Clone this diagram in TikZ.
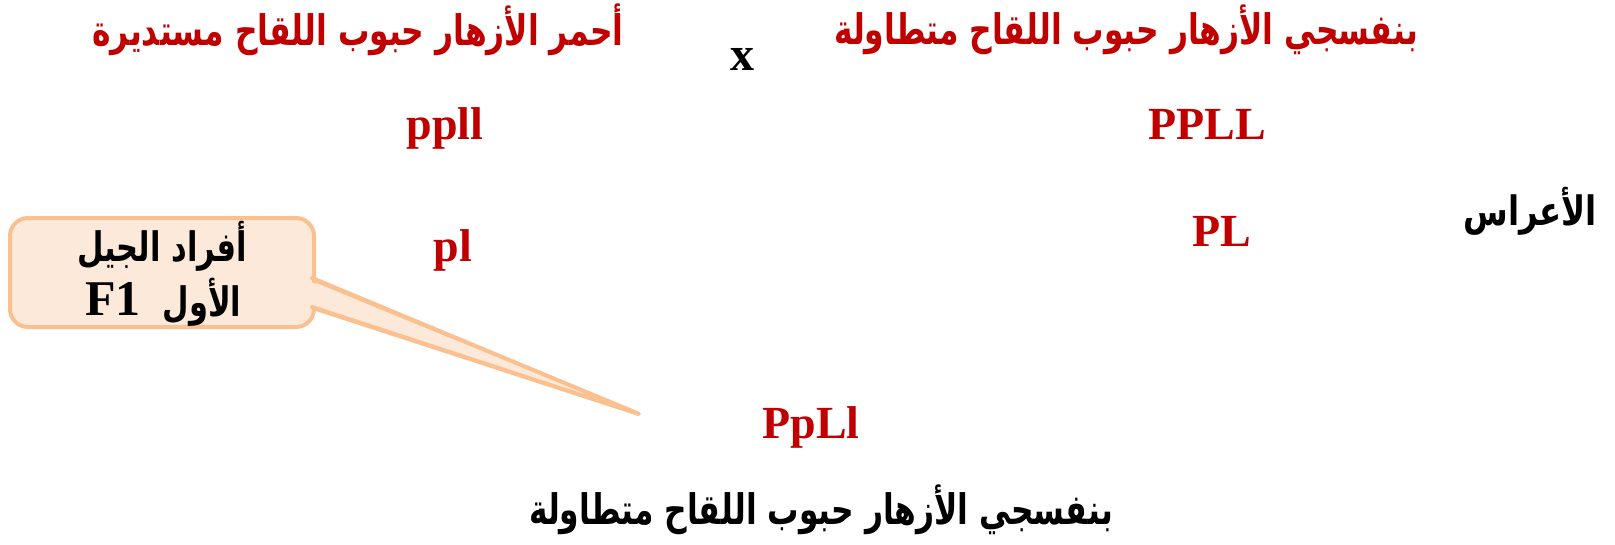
\documentclass[tikz,border=0pt]{standalone}
\usepackage{fontspec}
\setmainfont{Liberation Serif}
\newfontfamily\arabicfont[Script=Arabic]{DejaVu Sans}
\TeXXeTstate=1
\definecolor{darkred}{HTML}{C00000}
\definecolor{peachfill}{HTML}{FDE9D9}
\definecolor{peachline}{HTML}{FAC090}
\newcommand{\artxt}[1]{\scalebox{1.08}[1.45]{\arabicfont\bfseries\fontsize{29}{34}\selectfont\beginR #1\endR}}
\tikzset{
  arhead/.style={text=darkred, inner sep=0pt},
  arblack/.style={text=black, inner sep=0pt},
  geno/.style={font=\bfseries\fontsize{46}{50}\selectfont, text=darkred, inner sep=0pt},
  callbox/.style={draw=peachline, fill=peachfill, line width=4pt, rounded corners=18pt, minimum width=304pt, minimum height=109pt, inner sep=0pt}
}
\begin{document}
\begin{tikzpicture}[x=1pt,y=-1pt]
\useasboundingbox (0,0) rectangle (1615,544);
% headings
\node[arhead] (hl) at (358,30) {\artxt{أحمر الأزهار حبوب اللقاح مستديرة}};
\node[font=\bfseries\fontsize{48}{50}\selectfont, inner sep=0pt] (cross) at (742,59) {x};
\node[arhead] (hr) at (1126,30) {\artxt{بنفسجي الأزهار حبوب اللقاح متطاولة}};
% genotypes
\node[geno] (g1) at (445,128) {ppll};
\node[geno] (g2) at (1207,124) {PPLL};
\node[geno] (ga) at (453,250) {pl};
\node[geno] (gb) at (1222,231) {PL};
\node[inner sep=0pt] (gam) at (1530,211) {\scalebox{1.2}[1.5]{\arabicfont\bfseries\fontsize{27}{30}\selectfont\beginR الأعراس\endR}};
% offspring
\node[geno] (f1) at (811,427) {PpLl};
\node[arblack] (desc) at (821,510) {\artxt{بنفسجي الأزهار حبوب اللقاح متطاولة}};
% callout
\coordinate (tip) at (639,414);
\filldraw[draw=peachline, fill=peachfill, line width=4pt, line join=round] (310,278) -- (tip) -- (310,307);
\node[callbox, anchor=north west] (callout) at (8,216) {};
\fill[peachfill] (306,280) -- (tip) -- (306,305) -- cycle;
\draw[peachline, line width=4pt, line cap=round] (312,278) -- (tip) -- (312,307);
\node[inner sep=0pt] (ct1) at (162,246) {\scalebox{1.09}[1.45]{\arabicfont\bfseries\fontsize{28}{32}\selectfont\beginR أفراد الجيل\endR}};
\node[inner sep=0pt] (ct2) at (202,302) {\scalebox{1.09}[1.45]{\arabicfont\bfseries\fontsize{28}{32}\selectfont\beginR الأول\endR}};
\node[inner sep=0pt, font=\bfseries\fontsize{50}{52}\selectfont] (ct3) at (113,299) {F1};
\end{tikzpicture}
\end{document}
